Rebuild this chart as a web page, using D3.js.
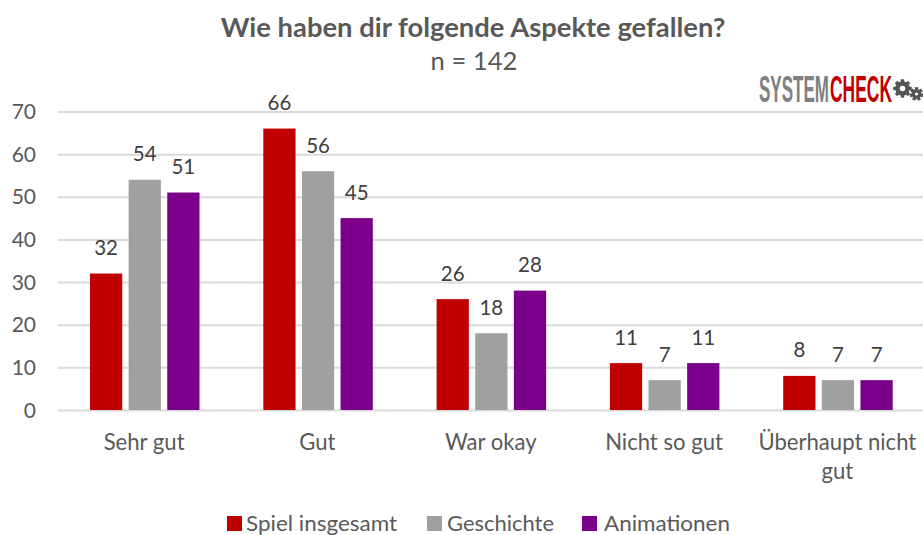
<!DOCTYPE html>
<html><head><meta charset="utf-8">
<script src="https://d3js.org/d3.v7.min.js"></script>
<style>html,body{margin:0;padding:0;background:#fff}svg{display:block}text{font-family:Lato,Carlito,"Open Sans",sans-serif}</style>
</head><body><div id="c"></div>
<script>
const categories=["Sehr gut","Gut","War okay","Nicht so gut","Überhaupt nicht gut"];
const categoryLines=[["Sehr gut"],["Gut"],["War okay"],["Nicht so gut"],["Überhaupt nicht","gut"]];
const seriesNames=["Spiel insgesamt","Geschichte","Animationen"];
const seriesColors=["#C00000","#A0A0A0","#7A008C"];
const spiel=[32,66,26,11,8];
const geschichte=[54,56,18,7,7];
const animationen=[51,45,28,11,7];
const seriesValues=[spiel,geschichte,animationen];
const yTicks=[0,10,20,30,40,50,60,70];

const W=923,H=535;
const svg=d3.select("#c").append("svg").attr("width",W).attr("height",H);
const y=d3.scaleLinear().domain([0,70]).range([410,111.5]);
const x=d3.scaleBand().domain(categories).range([58,924.5]).paddingInner(0).paddingOuter(0);
const xs=d3.scaleBand().domain(seriesNames).range([32,141.5]).paddingInner(0.165);
const txt="#595959";

svg.append("text").attr("x",473).attr("y",37).attr("text-anchor","middle").attr("font-size",27.4).attr("font-weight",700).attr("fill",txt).text("Wie haben dir folgende Aspekte gefallen?");
svg.append("text").attr("x",474).attr("y",70).attr("text-anchor","middle").attr("font-size",25.6).attr("fill",txt).text("n = 142");

svg.append("g").selectAll("line").data(yTicks).join("line")
 .attr("x1",58).attr("x2",923).attr("y1",d=>y(d)+.5).attr("y2",d=>y(d)+.5)
 .attr("stroke","#DADADA").attr("stroke-width",2);

svg.append("g").selectAll("text").data(yTicks).join("text")
 .attr("x",36).attr("y",d=>y(d)+7.5).attr("text-anchor","end").attr("font-size",21).attr("fill",txt).text(d=>d);

seriesNames.forEach((s,i)=>{
 const g=svg.append("g");
 g.selectAll("rect").data(seriesValues[i]).join("rect")
  .attr("x",(d,j)=>x(categories[j])+xs(s)).attr("width",xs.bandwidth())
  .attr("y",d=>y(d)).attr("height",d=>y(0)-y(d)).attr("fill",seriesColors[i]);
 g.selectAll("text").data(seriesValues[i]).join("text")
  .attr("x",(d,j)=>x(categories[j])+xs(s)+xs.bandwidth()/2).attr("y",d=>y(d)-18.5)
  .attr("text-anchor","middle").attr("font-size",20.5).attr("fill","#404040").text(d=>d);
});

categories.forEach((c,j)=>{
 categoryLines[j].forEach((l,k)=>{
  svg.append("text").attr("x",x(c)+x.bandwidth()/2-.5).attr("y",449.5+k*29).attr("text-anchor","middle").attr("font-size",22.1).attr("fill",txt).text(l);
 });
});

// legend
const legendBox=[227,427,582],legendText=[246,447,604],legendW=[151,107,126];
seriesNames.forEach((s,i)=>{
 svg.append("rect").attr("x",legendBox[i]).attr("y",516).attr("width",15).attr("height",15).attr("fill",seriesColors[i]);
 svg.append("text").attr("x",legendText[i]).attr("y",531).attr("font-size",22).attr("fill",txt).attr("textLength",legendW[i]).attr("lengthAdjust","spacingAndGlyphs").text(s);
});

// logo
const logo=svg.append("g");
function word(t,x0,w,col){
 const e=logo.append("text").attr("font-size",37).attr("font-weight",700).attr("fill",col)
  .style("font-family","'Liberation Sans Narrow','Liberation Sans',sans-serif").text(t);
 const k=w/e.node().getComputedTextLength();
 e.attr("transform",`translate(${x0},102) scale(${k},1)`);
}
word("SYSTEM",759,70,"#808080");
word("CHECK",830,62,"#C00000");
function gear(cx,cy,r,teeth,sw){
 const g=logo.append("g").attr("transform",`translate(${cx},${cy})`);
 g.append("circle").attr("r",r).attr("fill","none").attr("stroke","#555").attr("stroke-width",sw);
 for(let i=0;i<teeth;i++){
  g.append("rect").attr("x",-1.7).attr("y",-(r+sw/2+2)).attr("width",3.4).attr("height",3).attr("fill","#555").attr("transform",`rotate(${i*360/teeth})`);
 }
}
gear(902.5,88.5,5,8,4.5);
gear(916.5,94,3.2,7,3.2);
</script></body></html>
